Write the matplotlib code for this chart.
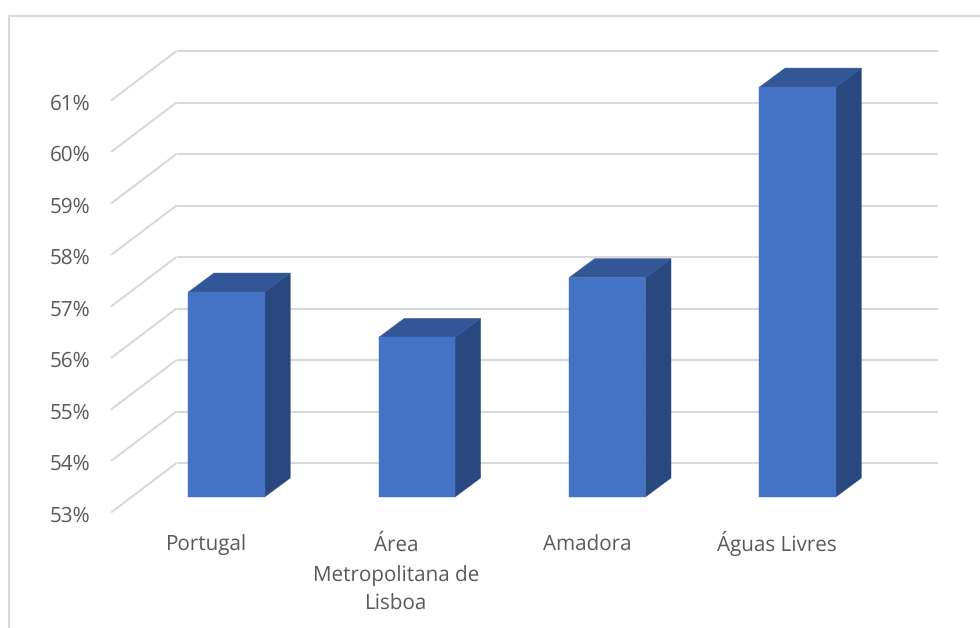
import matplotlib
matplotlib.use("Agg")
from matplotlib import pyplot as plt
from matplotlib.lines import Line2D
from matplotlib.patches import Polygon
from matplotlib.transforms import IdentityTransform

# data
categories = ["Portugal", "Área\nMetropolitana de\nLisboa", "Amadora", "Águas Livres"]
values = [56.98, 56.1, 57.26, 60.96]
y_ticks = [53, 54, 55, 56, 57, 58, 59, 60, 61]
y_labels = ["53%", "54%", "55%", "56%", "57%", "58%", "59%", "60%", "61%"]

W, H = 980, 628
GRID = "#D9D9D9"
TEXT = "#595959"
FRONT = "#4472C4"
TOP = "#335796"
SIDE = "#2A4880"

plt.rcParams["font.family"] = ["Open Sans", "DejaVu Sans"]
plt.rcParams["text.hinting"] = "none"

fig = plt.figure(figsize=(W / 100, H / 100), dpi=100)
# axes sit on the back wall of the fake 3d box
ax = fig.add_axes([176.5 / W, (H - 463) / H, (938 - 176.5) / W, (463 - 51) / H])
ax.set_xlim(-0.5, 3.5)
ax.set_ylim(53, 61)
ax.axis("off")

# pixel offsets from the back wall
wall_front = (-65.5, -49.5)
bar_front = (-45.2, -34)
bar_back = (-19.6, -15)
bar_width = 0.401
pix = IdentityTransform()


def pt(x, y, shift=(0, 0)):
    px, py = ax.transData.transform((x, y))
    return (px + shift[0], py + shift[1])


def line(p0, p1):
    fig.add_artist(Line2D([p0[0], p1[0]], [p0[1], p1[1]], transform=pix,
                          color=GRID, lw=1.5, zorder=1, solid_capstyle="butt"))


# outer frame, cut off by the picture on the right and at the bottom
fig.add_artist(Line2D([8.5, 8.5, W], [0, H - 15.5, H - 15.5], transform=pix,
                      color=GRID, lw=1.5, zorder=1))

# gridlines: back wall plus the slanted part on the side wall
for tick, lab in zip(y_ticks, y_labels):
    line(pt(-0.5, tick), pt(3.5, tick))
    line(pt(-0.5, tick, wall_front), pt(-0.5, tick))
    x0, y0 = pt(-0.5, tick, wall_front)
    fig.text(x0 - 21, y0 - 9, lab, transform=pix, ha="right", va="baseline",
             fontsize=14.9, color=TEXT)

# bars
for i, (cat, val) in enumerate(zip(categories, values)):
    l, r = i - bar_width / 2, i + bar_width / 2
    front = [pt(l, 53, bar_front), pt(r, 53, bar_front), pt(r, val, bar_front), pt(l, val, bar_front)]
    side = [pt(r, 53, bar_front), pt(r, 53, bar_back), pt(r, val, bar_back), pt(r, val, bar_front)]
    top = [pt(l, val, bar_front), pt(r, val, bar_front), pt(r, val, bar_back), pt(l, val, bar_back)]
    for poly, col in ((side, SIDE), (top, TOP), (front, FRONT)):
        fig.add_artist(Polygon(poly, closed=True, transform=pix, facecolor=col,
                               edgecolor=col, lw=0.3, zorder=3))

    # one text per line so the first baseline stays put
    x0, y0 = pt(i, 53, wall_front)
    for n, part in enumerate(cat.split("\n")):
        fig.text(x0, y0 - 38.5 - 29.5 * n, part, transform=pix, ha="center", va="baseline",
                 fontsize=14.9, color=TEXT)

fig.savefig("out.png", dpi=100)
